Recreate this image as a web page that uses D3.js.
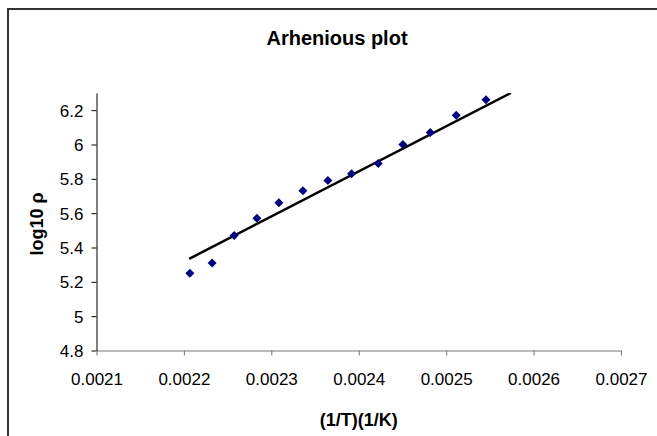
<!DOCTYPE html>
<html>
<head>
<meta charset="utf-8">
<script src="https://cdn.jsdelivr.net/npm/d3@7"></script>
<style>
  body { margin: 0; background: #fff; }
  svg { display: block; font-family: "Liberation Sans", Arial, sans-serif; }
  .tick-label { font-size: 17px; fill: #000; }
  .axis-title { font-size: 18px; font-weight: bold; fill: #000; }
  .chart-title { font-size: 20px; font-weight: bold; fill: #000; }
</style>
</head>
<body>
<div class="container"></div>
<script>
// data
const invT = [0.0022068, 0.0022323, 0.0022575, 0.0022835, 0.0023086, 0.0023361, 0.0023647,
              0.0023918, 0.0024223, 0.0024505, 0.0024818, 0.0025115, 0.0025455];
const logRho = [5.25, 5.31, 5.47, 5.57, 5.66, 5.73, 5.79, 5.83, 5.89, 6.00, 6.07, 6.17, 6.26];

// trend line end points (clipped at the top of the plot)
const fitX = [0.002206, 0.002574];
const fitY = [5.334, 6.30];

const xTicks = [0.0021, 0.0022, 0.0023, 0.0024, 0.0025, 0.0026, 0.0027];
const yTicks = [4.8, 5, 5.2, 5.4, 5.6, 5.8, 6, 6.2];

const width = 657;
const height = 436;
const plot = {left: 96.5, right: 621, top: 93, bottom: 350.5};

const svg = d3.select(".container")
              .append("svg")
                .attr("width", width)
                .attr("height", height);

// chart frame, runs off the right and bottom edge
svg.append("rect")
  .attr("x", 8)
  .attr("y", 9)
  .attr("width", 700)
  .attr("height", 500)
  .attr("fill", "none")
  .attr("stroke", "#333")
  .attr("stroke-width", 2);

const x = d3.scaleLinear().domain([0.0021, 0.0027]).range([plot.left, plot.right]);
const y = d3.scaleLinear().domain([4.8, 6.3]).range([plot.bottom, plot.top]);

// x axis
const xAxis = svg.append("g")
  .attr("transform", "translate(0," + plot.bottom + ")")
  .call(d3.axisBottom(x).tickValues(xTicks).tickFormat(d => d.toFixed(4)).tickSize(5).tickSizeOuter(0));
xAxis.select(".domain").attr("stroke", "#777");
xAxis.selectAll(".tick line").attr("stroke", "#777");
xAxis.selectAll(".tick text")
  .attr("class", "tick-label")
  .attr("font-size", null).attr("font-family", null)
  .attr("y", 0).attr("dy", null)
  .attr("transform", "translate(0,34)");

// y axis
const yAxis = svg.append("g")
  .attr("transform", "translate(" + plot.left + ",0)")
  .call(d3.axisLeft(y).tickValues(yTicks).tickFormat(d => String(+d.toFixed(1))).tickSize(5).tickSizeOuter(0));
yAxis.select(".domain").attr("stroke", "#000");
yAxis.selectAll(".tick text")
  .attr("class", "tick-label")
  .attr("font-size", null).attr("font-family", null)
  .attr("x", -13).attr("dy", "0.36em");

// clip for the trend line
svg.append("clipPath").attr("id", "plot-clip")
  .append("rect")
  .attr("x", plot.left).attr("y", plot.top)
  .attr("width", plot.right - plot.left)
  .attr("height", plot.bottom - plot.top);

const line = d3.line().x(d => x(d[0])).y(d => y(d[1]));

svg.append("path")
  .datum(d3.zip(fitX, fitY))
  .attr("d", line)
  .attr("clip-path", "url(#plot-clip)")
  .attr("fill", "none")
  .attr("stroke", "#000")
  .attr("stroke-width", 2.5);

// diamond markers
svg.selectAll(".pt")
  .data(d3.zip(invT, logRho))
  .enter()
  .append("path")
  .classed("pt", true)
  .attr("d", "M0,-4.5L4.5,0L0,4.5L-4.5,0Z")
  .attr("transform", d => "translate(" + x(d[0]) + "," + y(d[1]) + ")")
  .attr("fill", "#000080");

// titles
svg.append("text")
  .classed("chart-title", true)
  .attr("x", 337)
  .attr("y", 45)
  .attr("text-anchor", "middle")
  .text("Arhenious plot");

svg.append("text")
  .classed("axis-title", true)
  .attr("x", (plot.left + plot.right) / 2)
  .attr("y", 426)
  .attr("text-anchor", "middle")
  .text("(1/T)(1/K)");

svg.append("text")
  .classed("axis-title", true)
  .attr("transform", "translate(43,224) rotate(-90)")
  .attr("text-anchor", "middle")
  .text("log10 ρ");
</script>
</body>
</html>
